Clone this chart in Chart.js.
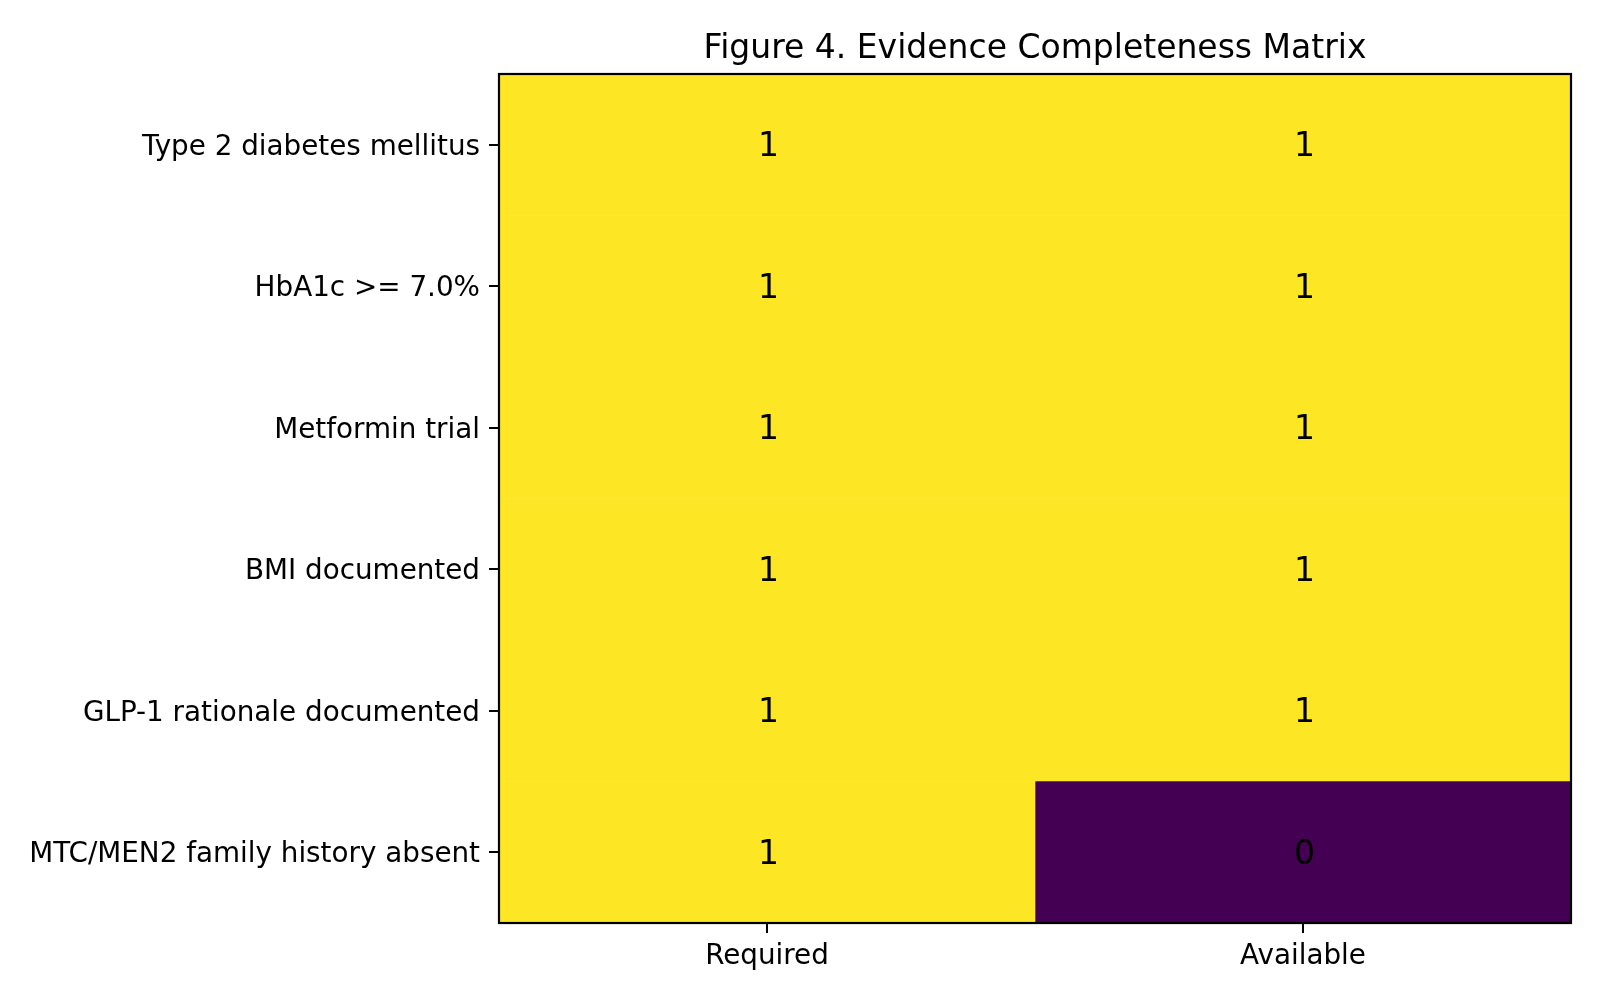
<!DOCTYPE html>
<html>
<head>
<meta charset="utf-8">
<title>Figure 4. Evidence Completeness Matrix</title>
<script src="https://cdn.jsdelivr.net/npm/chart.js@4.4.1/dist/chart.umd.min.js"></script>
<style>
  html, body { margin: 0; padding: 0; background: #fff; }
  #wrap { width: 1600px; height: 1000px; }
</style>
</head>
<body>
<div id="wrap"><canvas id="matrix" width="1600" height="1000"></canvas></div>
<script>
// ==================== DATA ====================
const ROWS = [
  'Type 2 diabetes mellitus',
  'HbA1c >= 7.0%',
  'Metformin trial',
  'BMI documented',
  'GLP-1 rationale documented',
  'MTC/MEN2 family history absent'
];
const COLS = ['Required', 'Available'];
const REQUIRED  = [1, 1, 1, 1, 1, 1];
const AVAILABLE = [1, 1, 1, 1, 1, 0];

const TITLE = 'Figure 4. Evidence Completeness Matrix';
const FONT = "'DejaVu Sans', sans-serif";

// viridis end points (vmin=0, vmax=1)
function vir(v) { return v >= 1 ? '#fde725' : '#440154'; }

const values = [REQUIRED, AVAILABLE];

const datasets = COLS.map((c, ci) => ({
  label: c,
  data: ROWS.map(() => [ci, ci + 1]),
  vals: values[ci],
  backgroundColor: values[ci].map(vir),
  borderWidth: 0,
  grouped: false,
  categoryPercentage: 1,
  barPercentage: 1
}));

// frame, title and cell numbers
const decor = {
  id: 'decor',
  afterDatasetsDraw(chart) {
    const { ctx, chartArea: a } = chart;
    ctx.save();
    ctx.fillStyle = '#000';
    ctx.font = '33px ' + FONT;
    ctx.textAlign = 'center';
    ctx.textBaseline = 'middle';
    chart.data.datasets.forEach((ds, i) => {
      chart.getDatasetMeta(i).data.forEach((el, j) => {
        const p = el.getCenterPoint();
        ctx.fillText(String(ds.vals[j]), p.x + 1.5, p.y + 3);
      });
    });
    ctx.strokeStyle = '#000';
    ctx.lineWidth = 2.2;
    ctx.strokeRect(a.left, a.top, a.right - a.left, a.bottom - a.top);
    ctx.textBaseline = 'alphabetic';
    ctx.fillText(TITLE, (a.left + a.right) / 2, a.top - 16);
    ctx.restore();
  }
};

new Chart(document.getElementById('matrix'), {
  type: 'bar',
  data: { labels: ROWS, datasets },
  options: {
    indexAxis: 'y',
    responsive: false,
    animation: false,
    devicePixelRatio: 1,
    layout: { padding: { top: 74, right: 29, left: 0, bottom: 0 } },
    plugins: { legend: { display: false }, tooltip: { enabled: false }, title: { display: false } },
    scales: {
      y: {
        type: 'category',
        offset: true,
        border: { display: false },
        grid: { offset: false, drawOnChartArea: false, drawTicks: true, tickLength: 10, color: '#000', lineWidth: 2 },
        ticks: { color: '#000', font: { family: FONT, size: 27.8 }, padding: 9, labelOffset: 3 },
        afterFit: s => { s.width = 499; }
      },
      x: {
        type: 'linear',
        min: 0, max: 2,
        border: { display: false },
        grid: { drawOnChartArea: false, drawTicks: true, tickLength: 10, color: '#000', lineWidth: 2 },
        afterBuildTicks: s => { s.ticks = COLS.map((c, i) => ({ value: i + 0.5 })); },
        ticks: { color: '#000', font: { family: FONT, size: 27.8 }, padding: 7, maxRotation: 0,
                 callback: v => COLS[Math.floor(v)] },
        afterFit: s => { s.height = 77; }
      }
    }
  },
  plugins: [decor]
});
</script>
</body>
</html>
